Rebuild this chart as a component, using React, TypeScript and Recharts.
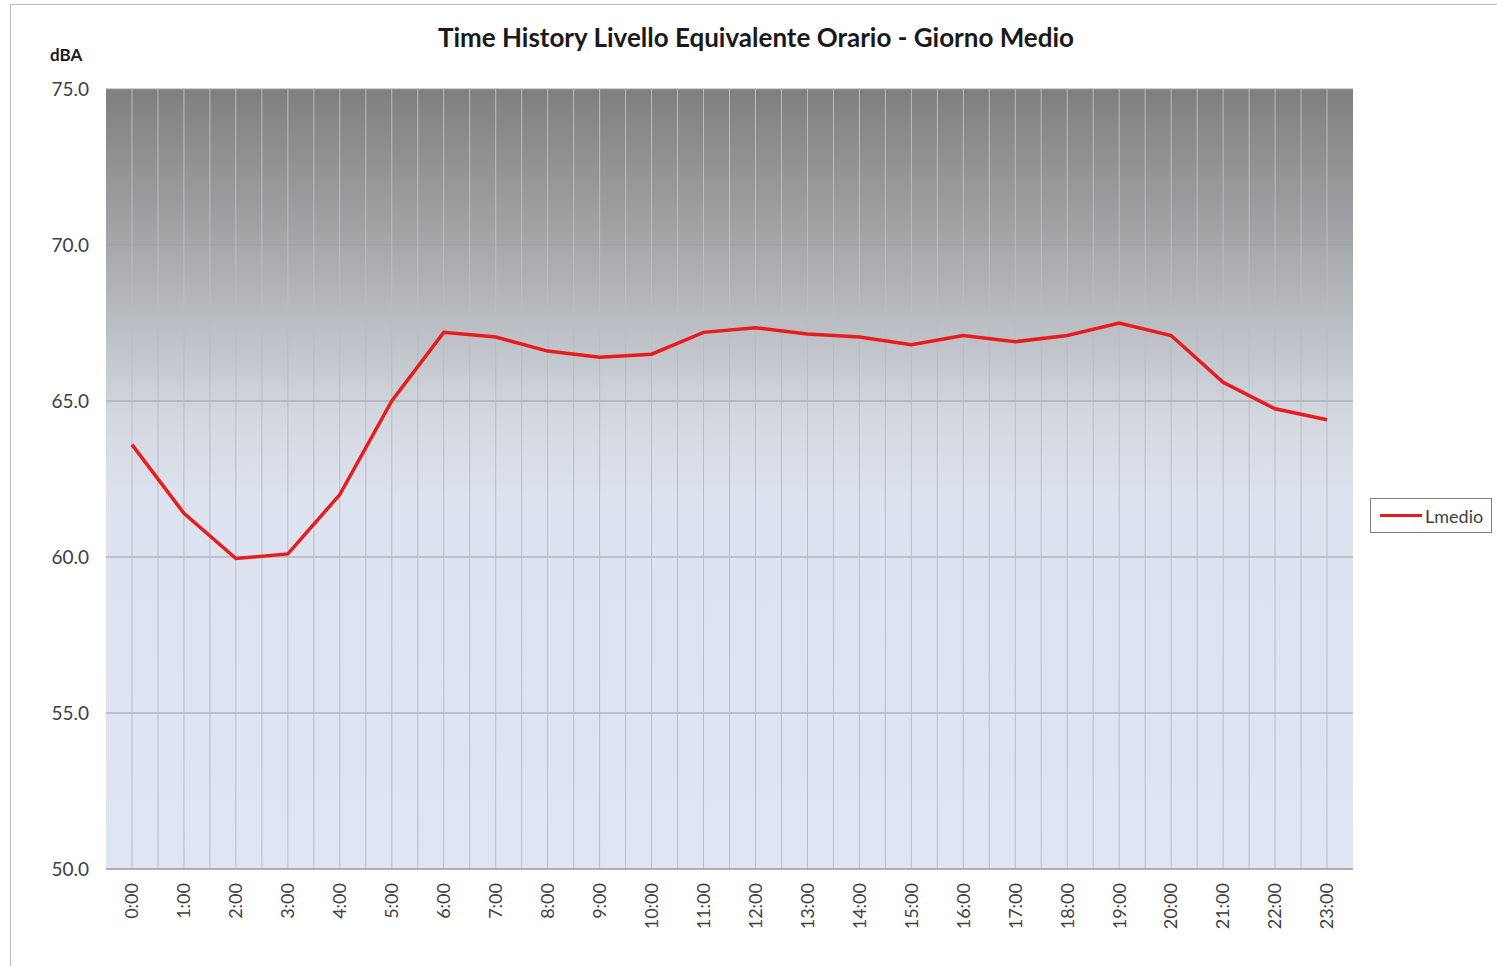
import { LineChart, Line, XAxis, YAxis, CartesianGrid, Legend } from 'recharts';

const hours = [
  '0:00', '1:00', '2:00', '3:00', '4:00', '5:00', '6:00', '7:00', '8:00', '9:00', '10:00', '11:00',
  '12:00', '13:00', '14:00', '15:00', '16:00', '17:00', '18:00', '19:00', '20:00', '21:00', '22:00', '23:00',
];
const lmedio = [
  63.6, 61.4, 59.95, 60.1, 62.0, 65.0, 67.2, 67.05, 66.6, 66.4, 66.5, 67.2,
  67.35, 67.15, 67.05, 66.8, 67.1, 66.9, 67.1, 67.5, 67.1, 65.6, 64.75, 64.4,
];
const yTicks = [50, 55, 60, 65, 70, 75];

const data = hours.map((h, i) => ({ hour: h, Lmedio: lmedio[i] }));

const FONT = 'Lato, "Liberation Sans", sans-serif';

function HourTick(props: any) {
  const { x, y, payload } = props;
  return (
    <g transform={`translate(${x},${y})`}>
      <text
        transform="rotate(-90)"
        x={-12}
        y={0}
        dy="0.35em"
        textAnchor="end"
        fill="#404040"
        fontSize={18}
        fontFamily={FONT}
      >
        {payload.value}
      </text>
    </g>
  );
}

function LegendBox() {
  return (
    <div
      style={{
        width: 122,
        height: 35,
        border: '1px solid #7f7f7f',
        background: '#fff',
        display: 'flex',
        alignItems: 'center',
        boxSizing: 'border-box',
        fontFamily: FONT,
        fontSize: 18,
        color: '#404040',
      }}
    >
      <div style={{ width: 42, height: 3, background: '#e81c1c', marginLeft: 9, marginRight: 3 }} />
      <span>Lmedio</span>
    </div>
  );
}

export default function App() {
  return (
    <div
      style={{
        position: 'absolute',
        left: 10,
        top: 4,
        width: 1500,
        height: 975,
        border: '1px solid #bdbdbd',
        background: '#fff',
        boxSizing: 'border-box',
      }}
    >
      <div
        style={{
          position: 'absolute',
          left: 0,
          width: 1490,
          top: 16,
          textAlign: 'center',
          paddingRight: 2,
          fontFamily: FONT,
          fontWeight: 700,
          fontSize: 26,
          color: '#1a1a1a',
        }}
      >
        Time History Livello Equivalente Orario - Giorno Medio
      </div>
      <div
        style={{
          position: 'absolute',
          left: 39,
          top: 39,
          fontFamily: FONT,
          fontWeight: 700,
          fontSize: 17,
          color: '#1a1a1a',
        }}
      >
        dBA
      </div>
      <LineChart
        width={1487}
        height={962}
        data={data}
        margin={{ top: 84, right: 145, bottom: 0, left: 0 }}
      >
        <defs>
          <linearGradient id="bgGrad" x1="0" y1="0" x2="0" y2="1">
            <stop offset="0%" stopColor="#7f7f7f" />
            <stop offset="20%" stopColor="#a6a7a9" />
            <stop offset="32%" stopColor="#bec2c8" />
            <stop offset="42%" stopColor="#d3d7df" />
            <stop offset="52%" stopColor="#dce2ee" />
            <stop offset="100%" stopColor="#dee5f3" />
          </linearGradient>
        </defs>
        <CartesianGrid
          vertical={false}
          stroke="#9c9fa4"
          strokeWidth={1.2}
          fill="url(#bgGrad)"
          fillOpacity={1}
        />
        <CartesianGrid
          horizontal={false}
          stroke="#b9bdc4"
          strokeWidth={1}
          verticalCoordinatesGenerator={({ offset }: any) =>
            Array.from({ length: 47 }, (_, i) => offset.left + ((i + 1) * offset.width) / 48)
          }
        />
        <XAxis
          dataKey="hour"
          scale="band"
          height={98}
          interval={0}
          tickSize={0}
          tickLine={false}
          axisLine={{ stroke: '#a6a6a6', strokeWidth: 1.5 }}
          tick={<HourTick />}
        />
        <YAxis
          width={95}
          domain={[50, 75]}
          ticks={yTicks}
          tickFormatter={(v: number) => v.toFixed(1)}
          axisLine={false}
          tickLine={false}
          tickSize={6}
          tickMargin={11}
          tick={{ fill: '#404040', fontSize: 19, fontFamily: FONT }}
        />
        <Legend
          layout="horizontal"
          verticalAlign="middle"
          align="center"
          content={<LegendBox />}
          wrapperStyle={{ left: 1359, top: 493, width: 122, right: 'auto', bottom: 'auto' }}
        />
        <Line
          type="linear"
          dataKey="Lmedio"
          stroke="#e81c1c"
          strokeWidth={3.5}
          dot={false}
          activeDot={false}
          isAnimationActive={false}
        />
      </LineChart>
    </div>
  );
}
